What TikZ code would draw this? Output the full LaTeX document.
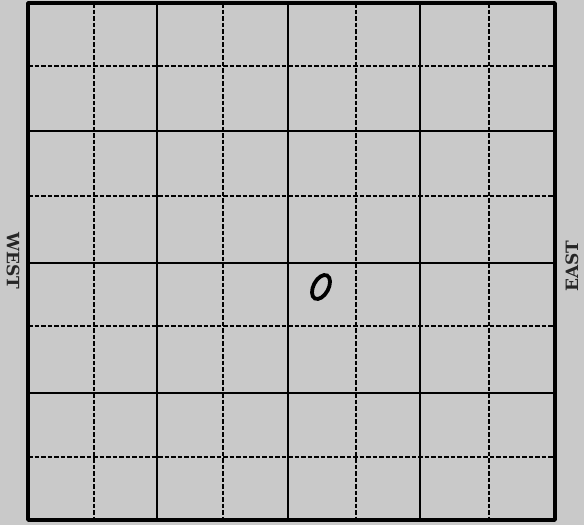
\documentclass[tikz,border=0pt]{standalone}
\usepackage{fontspec}
\newfontfamily\labelfont{DejaVu Serif}
\usetikzlibrary{shapes.geometric}
\begin{document}
\begin{tikzpicture}[x=1pt,y=-1pt,
  border/.style={line width=3.8pt,line join=round},
  major/.style={line width=2.3pt},
  minor/.style={line width=1.8pt,dash pattern=on 4.5pt off 2pt},
  dirlabel/.style={font=\labelfont\fontsize{17}{17}\selectfont\bfseries,text=black!85,inner sep=0pt},
  ringmark/.style={draw,line width=3.8pt,ellipse,minimum width=15pt,minimum height=26pt,inner sep=0pt}]
\fill[black!21] (0,0) rectangle (584,525);
\useasboundingbox (0,0) rectangle (584,525);
% minor dashed lines
\foreach \x in {94,223,356,489} \draw[minor] (\x,3) -- (\x,520);
\foreach \y in {66,196,326,457} \draw[minor] (28,\y) -- (555,\y);
% major solid lines
\foreach \x in {157,288,420} \draw[major] (\x,3) -- (\x,520);
\foreach \y in {131,263,393} \draw[major] (28,\y) -- (555,\y);
% outer border
\draw[border] (28,3) rectangle (555,520);
% labels
\node[dirlabel,rotate=-90] (west) at (13,261) {WEST};
\node[dirlabel,rotate=90] (east) at (572,266) {EAST};
% the mark
\node[ringmark,rotate=-28] (o) at (321,287) {};
\end{tikzpicture}
\end{document}
